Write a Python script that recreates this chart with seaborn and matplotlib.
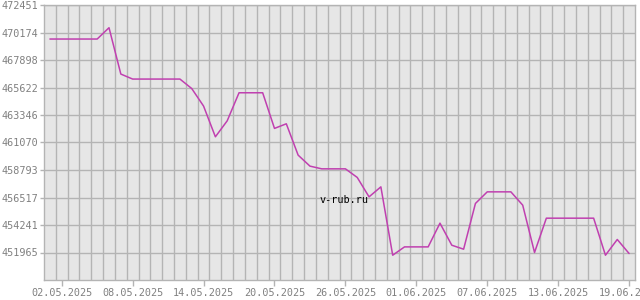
import numpy as np
import pandas as pd
import matplotlib
matplotlib.use("Agg")
import matplotlib.pyplot as plt
import matplotlib.dates as mdates
import seaborn as sns

dates = pd.date_range("2025-05-01", "2025-06-19", freq="D")
values = [
    469634, 469634, 469634, 469634, 469634, 470571, 466735, 466321, 466321, 466321,
    466321, 466321, 465534, 464084, 461541, 462866, 465186, 465186, 465186, 462237,
    462618, 460025, 459114, 458890, 458890, 458890, 458178, 456571, 457399, 451741,
    452429, 452429, 452429, 454392, 452569, 452238, 456024, 456985, 456985, 456985,
    455883, 451965, 454806, 454806, 454806, 454806, 454806, 451741, 453042, 451882,
]
ytick_values = [451965, 454241, 456517, 458793, 461070, 463346, 465622, 467898, 470174, 472451]
xtick_labels = ["02.05.2025", "08.05.2025", "14.05.2025", "20.05.2025", "26.05.2025",
                "01.06.2025", "07.06.2025", "13.06.2025", "19.06.2025"]

df = pd.DataFrame({"date": dates, "value": values})

sns.set_theme(style="white")
plt.rcParams["font.family"] = ["DejaVu Sans Mono"]

fig = plt.figure(figsize=(6.4, 3.0), dpi=100)
ax = fig.add_axes([44 / 640, 20 / 300, (635 - 44) / 640, (295 - 20) / 300])
ax.set_facecolor("#E6E6E6")

grid_c = "#B4B4B4"
text_c = "#808080"

sns.lineplot(data=df, x="date", y="value", ax=ax, color="#C040B0", linewidth=1.1, zorder=3)

half = pd.Timedelta(hours=12)
ax.set_xlim(dates[0] - half, dates[-1] + half)
ax.set_ylim(ytick_values[0] - (ytick_values[-1] - ytick_values[0]) / 9, ytick_values[-1])

xt = pd.to_datetime(xtick_labels, format="%d.%m.%Y")
ax.set_xticks(xt)
ax.set_xticklabels(xtick_labels)
ax.set_xticks([d + half for d in dates[:-1]], minor=True)
ax.set_yticks(ytick_values)
ax.set_yticklabels([str(v) for v in ytick_values])

ax.grid(False)
ax.grid(True, which="minor", axis="x", color=grid_c, linewidth=1.0, zorder=1)
ax.grid(True, which="major", axis="y", color=grid_c, linewidth=1.0, zorder=1)
ax.set_axisbelow(True)

ax.tick_params(axis="x", which="major", length=4, width=1, color=grid_c, labelcolor=text_c,
               labelsize=7.3, pad=2, bottom=True)
ax.tick_params(axis="x", which="minor", length=0)
ax.tick_params(axis="y", which="major", length=3, width=1, color=grid_c, labelcolor=text_c,
               labelsize=7.3, pad=1, left=True)

for s in ax.spines.values():
    s.set_color(grid_c)
    s.set_linewidth(1.0)

ax.set_xlabel("")
ax.set_ylabel("")
if ax.get_legend():
    ax.get_legend().remove()

ax.text(0.508, 0.29, "v-rub.ru", transform=ax.transAxes, ha="center", va="center",
        fontsize=7.3, color="black")

fig.savefig("out.png", dpi=100, facecolor="white")
